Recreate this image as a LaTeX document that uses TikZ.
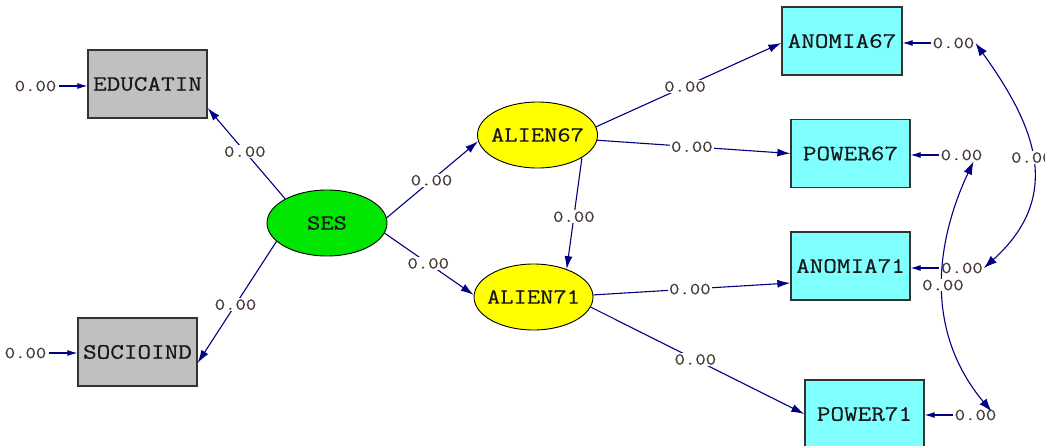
\documentclass[tikz,border=0pt]{standalone}
\usepackage{fontspec}
\setmonofont{Latin Modern Mono}[FakeStretch=1.2,FakeBold=0.5]
\usetikzlibrary{shapes.geometric,arrows.meta,calc}

\definecolor{pathblue}{RGB}{0,0,128}
\definecolor{obsgray}{RGB}{192,192,192}
\definecolor{obscyan}{RGB}{128,255,255}
\definecolor{latyellow}{RGB}{255,255,0}
\definecolor{latgreen}{RGB}{0,230,0}
\definecolor{valtext}{RGB}{72,56,56}
\definecolor{nametext}{RGB}{24,24,24}

\begin{document}
\begin{tikzpicture}[x=1pt,y=-1pt,
  obs/.style={draw=black!80, line width=1.3pt, minimum width=119pt, minimum height=68pt,
              inner sep=0pt, font=\ttfamily\fontsize{22}{22}\selectfont, text=nametext},
  lat/.style={ellipse, draw=black, line width=0.9pt, minimum width=120pt, minimum height=66pt,
              inner sep=0pt, font=\ttfamily\fontsize{21.5}{21.5}\selectfont, text=nametext},
  val/.style={font=\ttfamily\fontsize{16.8}{16.8}\selectfont, text=valtext, fill=white, inner sep=1pt},
  err/.style={font=\ttfamily\fontsize{16.8}{16.8}\selectfont, text=valtext, inner sep=1pt},
  conn/.style={draw=pathblue, line width=1.1pt, -{Latex[length=13pt,width=8pt]}},
  errarr/.style={draw=pathblue, line width=1.1pt, -{Latex[length=10pt,width=6pt]}},
  covarr/.style={draw=pathblue, line width=1.1pt,
                 {Latex[length=13pt,width=9pt]}-{Latex[length=13pt,width=9pt]}},
]
\useasboundingbox (0,0) rectangle (1045,445);

% observed indicators
\node[obs, fill=obsgray] (educ)  at (147.5,84)  {EDUCATIN};
\node[obs, fill=obsgray] (socio) at (137.5,352) {SOCIOIND};
\node[obs, fill=obscyan, minimum width=120pt] (anom67) at (842,41) {ANOMIA67};
\node[obs, fill=obscyan] (pow67)  at (850.5,153.5) {POWER67};
\node[obs, fill=obscyan] (anom71) at (850.5,266)   {ANOMIA71};
\node[obs, fill=obscyan] (pow71)  at (864.5,414)   {POWER71};

% latent variables
\node[lat, fill=latgreen]  (ses) at (327,223)   {\makebox[0pt]{SES}};
\node[lat, fill=latyellow] (a67) at (537.5,135) {\makebox[0pt]{ALIEN67}};
\node[lat, fill=latyellow, minimum width=119pt] (a71) at (533.5,297) {\makebox[0pt]{ALIEN71}};

% error terms
\node[err] (eEduc)   at (35.5,86)  {0.00};
\node[err] (eSocio)  at (25.5,353) {0.00};
\node[err] (eAnom67) at (953.5,43) {0.00};
\node[err] (ePow67)  at (961.5,155) {0.00};
\node[err] (eAnom71) at (962,268)  {0.00};
\node[err] (ePow71)  at (975.5,415) {0.00};

\draw[errarr, shorten <=2pt] (eEduc.east)   -- (eEduc.east -| educ.west);
\draw[errarr, shorten <=2pt] (eSocio.east)  -- (eSocio.east -| socio.west);
\draw[errarr, shorten <=1pt] (eAnom67.west) -- (eAnom67.west -| anom67.east);
\draw[errarr, shorten <=1pt] (ePow67.west)  -- (ePow67.west -| pow67.east);
\draw[errarr, shorten <=1pt] (eAnom71.west) -- (eAnom71.west -| anom71.east);
\draw[errarr, shorten <=1pt] (ePow71.west)  -- (ePow71.west -| pow71.east);

% structural and measurement paths
\draw[conn] (ses.150) -- ([yshift=-24pt]educ.east) node[val,pos=0.52] {0.00};
\draw[conn] (ses.200) -- ([yshift=-11pt]socio.east) node[val,pos=0.52] {0.00};
\draw[conn] (ses.5)   -- (a67.186) node[val,pos=0.49] {0.00};
\draw[conn] (ses.350) -- (a71.178) node[val,pos=0.49] {0.00};
\draw[conn] (a67.333) -- (a71.40)  node[val,pos=0.53] {0.00};
\draw[conn] (a67.8)   -- ([yshift=-2pt]anom67.west) node[val,pos=0.48] {0.00};
\draw[conn] (a67.355) -- (pow67.west) node[val,pos=0.49] {0.00};
\draw[conn] (a71.2)   -- ([yshift=-17pt]anom71.west) node[val,pos=0.49] {0.00};
\draw[conn] (a71.350) -- (pow71.west) node[val,pos=0.49] {0.00};

% error covariances
\draw[covarr] (eAnom67.east) .. controls (1032.5,122.5) and (1066,194) .. (eAnom71.east)
  node[val,pos=0.5] {0.00};
\draw[covarr] ([xshift=-10pt]ePow67.south east) .. controls (936.6,239.8) and (922.9,329.4)
  .. ([shift={(-6pt,-3pt)}]ePow71.north east) node[val,pos=0.5] {0.00};
\end{tikzpicture}
\end{document}
